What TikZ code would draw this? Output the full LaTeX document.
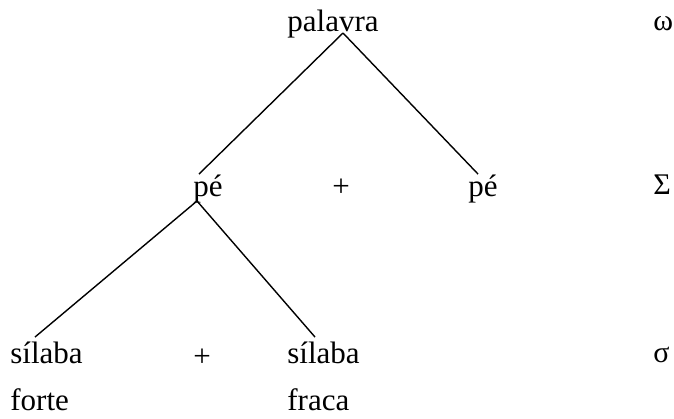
\documentclass[tikz,border=0pt]{standalone}
\usepackage{fontspec}
\setmainfont{Liberation Serif}
\usetikzlibrary{positioning}

\begin{document}
\begin{tikzpicture}[x=0.5pt,y=-0.5pt,
   rotulo/.style={anchor=base west,inner sep=0pt,font=\fontsize{15.5}{18}\selectfont},
   mais/.style={inner sep=0pt,font=\fontsize{15.5}{18}\selectfont},
   nivel/.style={anchor=base west,inner sep=0pt,font=\fontsize{15}{18}\selectfont},
   ramo/.style={line width=0.7pt}]
  \useasboundingbox (0,0) rectangle (674,418);
  % palavra
  \node[rotulo] (palavra) at (287,31) {palavra};
  \node[nivel] (omega) at (653,30) {ω};
  % pes
  \node[rotulo] (pe-l) at (193,196) {pé};
  \node[mais] (mais-pe) at (341,188) {+};
  \node[rotulo] (pe-r) at (468,196) {pé};
  \node[nivel] (Sigma) at (653,194) {Σ};
  % silabas
  \node[rotulo] (sil-l) at (10,363) {sílaba};
  \node[mais] (mais-sil) at (202,358) {+};
  \node[rotulo] (sil-r) at (287,363) {sílaba};
  \node[nivel] (sigma) at (653,362) {σ};
  \node[rotulo] (forte) at (10,410) {forte};
  \node[rotulo] (fraca) at (287,410) {fraca};
  % ramos
  \coordinate (v-palavra) at (343,33);
  \coordinate (v-pe) at (197,201);
  \draw[ramo] (v-palavra) -- ([xshift=3pt]pe-l.north west);
  \draw[ramo] (v-palavra) -- ([xshift=5pt]pe-r.north west);
  \draw[ramo] (v-pe) -- ([xshift=12.5pt,yshift=2pt]sil-l.north west);
  \draw[ramo] (v-pe) -- ([xshift=14pt,yshift=2pt]sil-r.north west);
\end{tikzpicture}
\end{document}
